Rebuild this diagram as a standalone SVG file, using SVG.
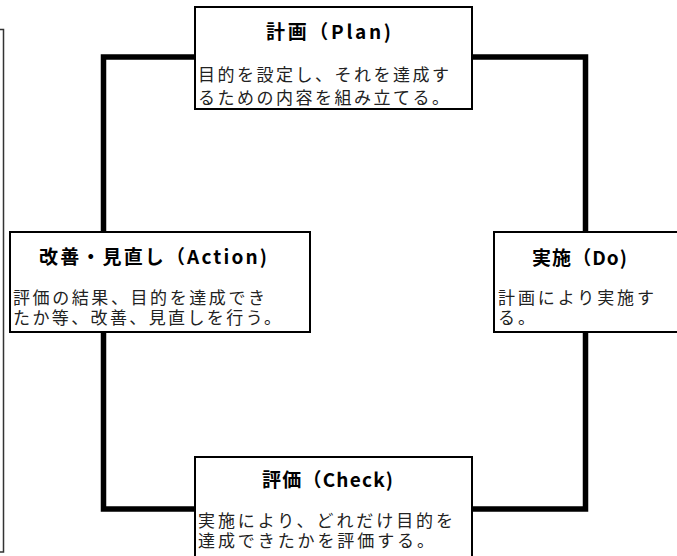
<svg xmlns="http://www.w3.org/2000/svg" width="677" height="556" viewBox="0 0 677 556">
<style>
.box{fill:#fff;stroke:#000;stroke-width:2}
.conn{fill:none;stroke:#000;stroke-width:5.5;stroke-linejoin:miter;stroke-linecap:butt}
.title{font-family:"Noto Sans CJK JP","DejaVu Sans",sans-serif;font-weight:bold;font-size:19px;fill:#000}
.body{font-family:"Noto Sans CJK JP","DejaVu Sans",sans-serif;font-size:17px;fill:#222}
</style>
<rect width="677" height="556" fill="#fff"/>
<path d="M0 29.5 H3.5 V552 H0" fill="none" stroke="#333" stroke-width="1.5"/>
<g id="connectors">
<path class="conn" d="M195 57 H103.5 V232"/>
<path class="conn" d="M472 57 H585.5 V232"/>
<path class="conn" d="M585.5 332 V509 H472"/>
<path class="conn" d="M103.5 332 V509 H195"/>
</g>
<g id="plan">
<rect class="box" x="195" y="7" width="277" height="102"/>
<text class="title" x="266" y="39" textLength="125" lengthAdjust="spacing">計画（Plan)</text>
<text class="body" x="198" y="81" textLength="251" lengthAdjust="spacing">目的を設定し、それを達成す</text>
<text class="body" x="198" y="104" textLength="251" lengthAdjust="spacing">るための内容を組み立てる。</text>
</g>
<g id="do">
<rect class="box" x="494" y="232" width="190" height="100"/>
<text class="title" x="532" y="265" textLength="95" lengthAdjust="spacing">実施（Do)</text>
<text class="body" x="498" y="304" textLength="156" lengthAdjust="spacing">計画により実施す</text>
<text class="body" x="498" y="324" textLength="37" lengthAdjust="spacing">る。</text>
</g>
<g id="check">
<rect class="box" x="195" y="457" width="277" height="110"/>
<text class="title" x="262" y="487" textLength="131" lengthAdjust="spacing">評価（Check)</text>
<text class="body" x="198" y="527" textLength="255" lengthAdjust="spacing">実施により、どれだけ目的を</text>
<text class="body" x="198" y="547" textLength="236" lengthAdjust="spacing">達成できたかを評価する。</text>
</g>
<g id="action">
<rect class="box" x="10" y="232" width="300" height="100"/>
<text class="title" x="39" y="264" textLength="228" lengthAdjust="spacing">改善・見直し（Action)</text>
<text class="body" x="13" y="304" textLength="252" lengthAdjust="spacing">評価の結果、目的を達成でき</text>
<text class="body" x="13" y="324" textLength="268" lengthAdjust="spacing">たか等、改善、見直しを行う。</text>
</g>
</svg>
